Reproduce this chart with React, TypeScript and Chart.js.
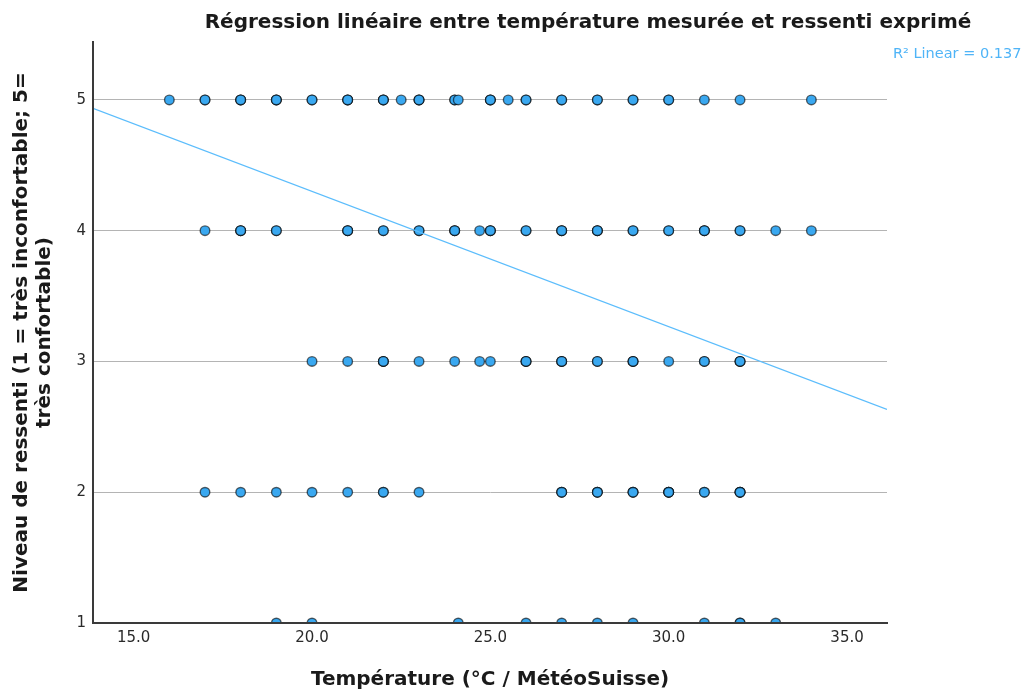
import { useEffect, useRef } from 'react';
import { Chart, registerables } from 'chart.js';

Chart.register(...registerables);

// Temperatures (°C) observed at each comfort level; repeated values are overlapping answers
const tempsLevel5 = [16, 17, 17, 18, 18, 18, 19, 19, 19, 20, 20, 21, 21, 21, 22, 22, 22, 22.5, 23, 23, 23, 24, 24, 24.1, 25, 25, 25, 25.5, 26, 26, 27, 27, 28, 28, 29, 29, 30, 30, 31, 32, 34];
const tempsLevel4 = [17, 18, 18, 18, 19, 19, 21, 21, 21, 22, 22, 23, 23, 24, 24, 24, 24.7, 25, 25, 25, 26, 26, 27, 27, 27, 28, 28, 28, 29, 29, 30, 30, 31, 31, 31, 32, 32, 33, 34];
const tempsLevel3 = [20, 21, 22, 22, 22, 23, 24, 24.7, 25, 26, 26, 26, 27, 27, 27, 28, 28, 29, 29, 29, 30, 31, 31, 32, 32, 32];
const tempsLevel2 = [17, 18, 19, 20, 21, 22, 22, 23, 27, 27, 27, 28, 28, 28, 29, 29, 29, 30, 30, 30, 30, 31, 31, 32, 32, 32, 32];
const tempsLevel1 = [19, 20, 24.1, 26, 27, 28, 29, 31, 32, 32, 33];

const levels = [5, 4, 3, 2, 1];
const tempsByLevel = [tempsLevel5, tempsLevel4, tempsLevel3, tempsLevel2, tempsLevel1];

// Linear fit of comfort level on temperature
const fitIntercept = 6.371;
const fitSlope = -0.1035;
const rSquared = 0.137;

const xMin = 13.86;
const xMax = 36.12;
const yMin = 1;
const yMax = 5.443;

const titleText = 'Régression linéaire entre température mesurée et ressenti exprimé';
const xTitleText = 'Température (°C / MétéoSuisse)';
const yTitleLines = ['Niveau de ressenti (1 = très inconfortable; 5=', 'très confortable)'];
const fitLabel = `R² Linear = ${rSquared.toFixed(3)}`;

const textPlugin = {
  id: 'chartTexts',
  afterDraw(chart: any) {
    const { ctx, chartArea } = chart;
    ctx.save();
    ctx.fillStyle = '#1a1a1a';
    ctx.textBaseline = 'middle';

    ctx.font = 'bold 20px "DejaVu Sans"';
    ctx.textAlign = 'center';
    ctx.fillText(titleText, 588, 23);

    ctx.font = 'bold 20px "DejaVu Sans"';
    ctx.fillText(xTitleText, (chartArea.left + chartArea.right) / 2, 680);

    ctx.save();
    ctx.translate(22, (chartArea.top + chartArea.bottom) / 2);
    ctx.rotate(-Math.PI / 2);
    ctx.font = 'bold 20px "DejaVu Sans"';
    ctx.fillText(yTitleLines[0], 0, 0);
    ctx.fillText(yTitleLines[1], 0, 23);
    ctx.restore();

    ctx.font = '14.5px "DejaVu Sans"';
    ctx.fillStyle = '#4fb4f7';
    ctx.textAlign = 'left';
    ctx.fillText(fitLabel, 893, 54);
    ctx.restore();
  },
};

export default function App() {
  const canvasRef = useRef<HTMLCanvasElement | null>(null);

  useEffect(() => {
    if (!canvasRef.current) return;

    const points: { x: number; y: number }[] = [];
    tempsByLevel.forEach((temps, i) => {
      temps.forEach((t) => points.push({ x: t, y: levels[i] }));
    });

    const fitLine = [xMin, xMax].map((x) => ({ x, y: fitIntercept + fitSlope * x }));

    const chart = new Chart(canvasRef.current, {
      type: 'scatter',
      data: {
        datasets: [
          {
            type: 'line',
            label: 'Linear',
            data: fitLine,
            borderColor: '#5cbdfc',
            borderWidth: 1.3,
            pointRadius: 0,
            fill: false,
            order: 0,
          } as any,
          {
            label: 'Ressenti',
            data: points,
            backgroundColor: '#3aa8f0',
            borderColor: 'rgba(0, 0, 0, 0.6)',
            borderWidth: 1.4,
            pointRadius: 4.8,
            pointHoverRadius: 4.8,
            clip: { left: 10, top: 10, right: 10, bottom: 0 } as any,
            order: 1,
          },
        ],
      },
      options: {
        responsive: false,
        animation: false,
        events: [],
        layout: { padding: { top: 42, right: 140, left: 0, bottom: 0 } },
        plugins: {
          legend: { display: false },
          title: { display: false },
          tooltip: { enabled: false },
        },
        scales: {
          x: {
            type: 'linear',
            min: xMin,
            max: xMax,
            afterFit(scale: any) {
              scale.height = 69;
            },
            ticks: {
              stepSize: 5,
              includeBounds: false,
              padding: 6,
              color: '#2a2a2a',
              font: { family: 'DejaVu Sans', size: 15 },
              maxRotation: 0,
              callback: (v: any) => Number(v).toFixed(1),
            },
            grid: { display: false, drawTicks: false },
            border: { display: true, color: '#3a3a3a', width: 2, z: 1 },
          },
          y: {
            type: 'linear',
            min: yMin,
            max: yMax,
            afterFit(scale: any) {
              scale.width = 93;
            },
            ticks: {
              stepSize: 1,
              includeBounds: false,
              padding: 7,
              color: '#2a2a2a',
              font: { family: 'DejaVu Sans', size: 15 },
              callback: (v: any) => String(v),
            },
            grid: { display: true, color: '#b4b4b4', lineWidth: 1, drawTicks: false },
            border: { display: true, color: '#3a3a3a', width: 2, z: 1 },
          },
        },
      },
      plugins: [textPlugin],
    });

    return () => chart.destroy();
  }, []);

  return (
    <div style={{ position: 'absolute', left: 0, top: 0, width: 1027, height: 692, background: '#ffffff' }}>
      <canvas ref={canvasRef} width={1027} height={692} />
    </div>
  );
}
